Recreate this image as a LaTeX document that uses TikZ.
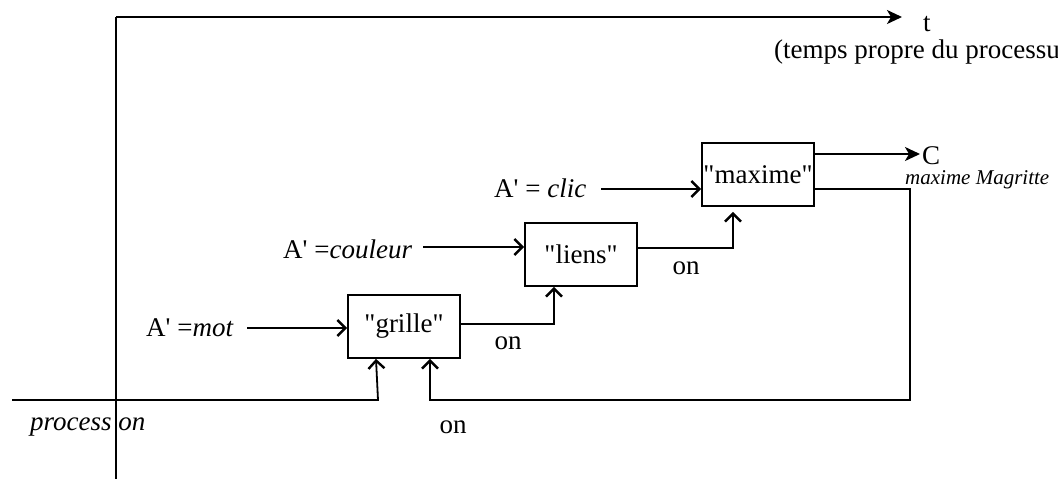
\documentclass[tikz,border=0pt]{standalone}
\usepackage{fontspec}
\setmainfont{Liberation Serif}[Ligatures=TeXOff]
\usetikzlibrary{arrows.meta}
\begin{document}
\begin{tikzpicture}[x=1pt,y=-1pt,
  every node/.style={font=\fontsize{27}{30}\selectfont, inner sep=0pt},
  ln/.style={line width=1.8pt},
  arr/.style={ln, -{Straight Barb[length=8pt,width=16pt,line width=2.4pt]}},
  bigarr/.style={ln, -{Stealth[length=15pt,width=14pt,inset=4pt]}},
  procbox/.style={draw, line width=1.8pt, minimum width=112pt, minimum height=63pt},
  lbl/.style={anchor=west}]
\useasboundingbox (0,0) rectangle (1058,479);

% axes
\coordinate (ax0) at (116,17);
\coordinate (ax1) at (116,479);
\coordinate (axt) at (902,17);
\draw[ln] (ax0) -- (ax1);
\draw[bigarr] (ax0) -- (axt);
\node[lbl] (t) at (923,24) {t};
\node[lbl] (tp) at (774,52) {(temps propre du processus)};

% boxes
\node[procbox] (grille) at (404,326.5) {"grille"};
\node[procbox] (liens) at (581,254.5) {"liens"};
\node[procbox] (maxime) at (758,174.5) {"maxime"};

% inputs
\node[lbl] (mot) at (146,328) {A' =\textit{mot}};
\node[lbl] (couleur) at (283,249) {A' =\textit{couleur}};
\node[lbl] (clic) at (494,188) {A' = \textit{clic}};
\draw[arr] ([xshift=-100pt,yshift=-1.5pt]grille.west) -- ([yshift=-1.5pt]grille.west);
\draw[arr] ([xshift=-101pt,yshift=7.5pt]liens.west) -- ([yshift=7.5pt]liens.west);
\draw[arr] ([xshift=-100pt,yshift=-14.5pt]maxime.west) -- ([yshift=-14.5pt]maxime.west);

% chain
\draw[arr] ([yshift=2.5pt]grille.east) -| ([xshift=-27pt]liens.south);
\node (on1) at (508,343) {on};
\draw[arr, shorten >=5pt] ([yshift=6.5pt]liens.east) -| ([xshift=-25pt]maxime.south);
\node (on2) at (686,268) {on};

% output C
\node[lbl] (C) at (922,156) {C};
\node[lbl, font=\fontsize{21}{24}\selectfont\itshape] (mm) at (905,180) {maxime Magritte};
\draw[bigarr] ([yshift=20.5pt]maxime.east) -- ([xshift=-2pt,yshift=20.5pt]C.west |- maxime.east);

% feedback loop
\coordinate (lc) at (910,400);
\draw[arr] ([yshift=-14.5pt]maxime.east) -| (lc) -| ([xshift=26pt]grille.south);
\node (on3) at (453,427) {on};

% process on
\coordinate (ps) at (12,400);
\coordinate (pc) at (378,400);
\draw[arr] (ps) -- (pc) -- ([xshift=-28pt]grille.south);
\node[lbl, font=\fontsize{27}{30}\selectfont\itshape] (proc) at (30,427) {process on};
\end{tikzpicture}
\end{document}
